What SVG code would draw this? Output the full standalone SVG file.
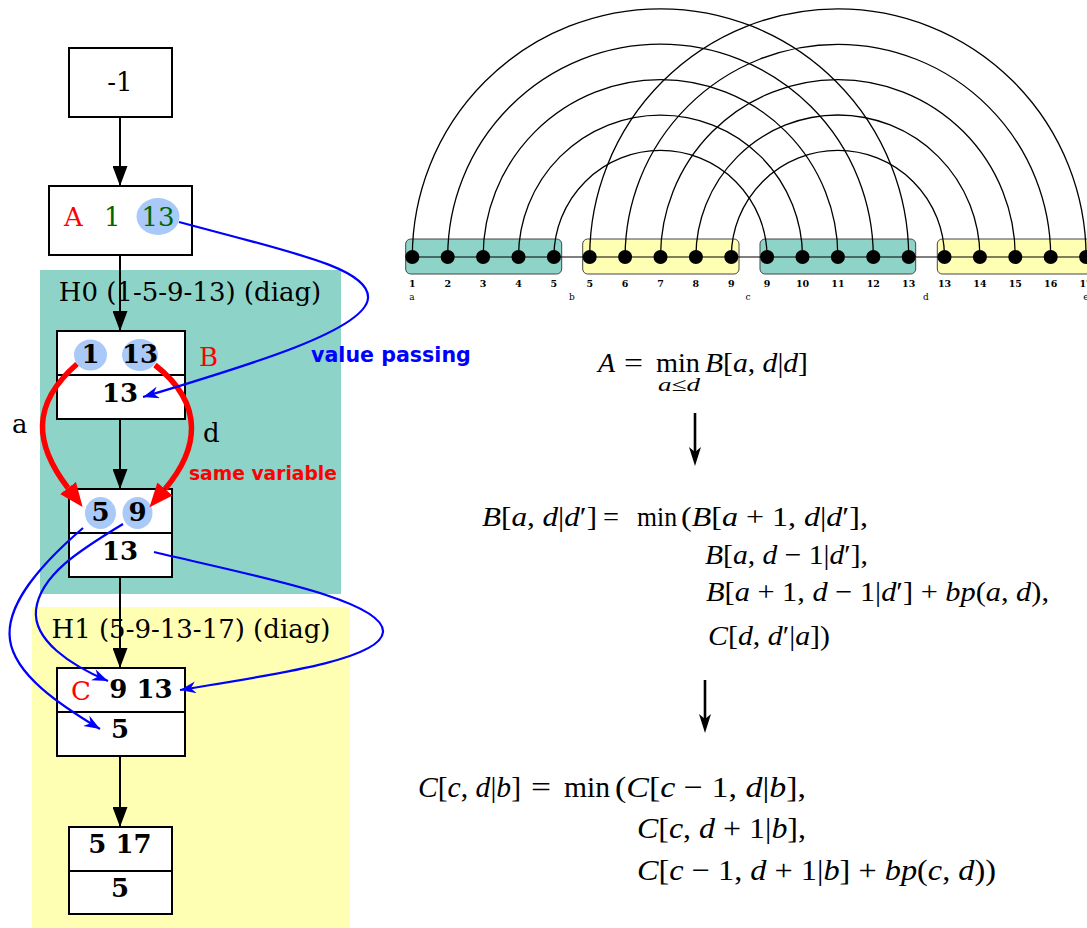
<svg xmlns="http://www.w3.org/2000/svg" width="1087" height="928" viewBox="0 0 1087 928">
<style>
.box{fill:#fff;stroke:#000;stroke-width:2}
.sep{stroke:#000;stroke-width:2}
.ser{font-family:"DejaVu Serif",serif;font-size:26px}
.b{font-weight:bold}
.hl{fill:#a9c9f9}
.edge{fill:none;stroke:#000;stroke-width:2}
.blue{fill:none;stroke:#0000ff;stroke-width:2.2}
.red{fill:none;stroke:#ff0000;stroke-width:5.5}
.arc{fill:none;stroke:#000;stroke-width:1.3}
.grp{stroke:#444;stroke-width:1}
.teal{fill:#8dd3c7}
.yel{fill:#ffffb3}
.num{font-family:"DejaVu Serif",serif;font-weight:bold;font-size:9.5px;text-anchor:middle;fill:#000}
.let{font-family:"DejaVu Serif",serif;font-size:9px;text-anchor:middle;fill:#000}
.m{font-family:"Liberation Serif",serif;fill:#000}
.i{font-style:italic}
.mid{text-anchor:middle}
.sans{font-family:"DejaVu Sans",sans-serif;font-weight:bold}
</style>
<defs>
<marker id="ah" viewBox="0 0 20 15" refX="20" refY="7.5" markerWidth="20" markerHeight="15" markerUnits="userSpaceOnUse" orient="auto"><path d="M0,0 L20,7.5 L0,15 Z" fill="#000"/></marker>
<marker id="bh" viewBox="0 0 16 12" refX="16" refY="6" markerWidth="16" markerHeight="12" markerUnits="userSpaceOnUse" orient="auto"><path d="M0,0 L16,6 L0,12 L5,6 Z" fill="#0000ff"/></marker>
<marker id="rh" viewBox="0 -10 24 20" refX="0" refY="0" markerWidth="24" markerHeight="20" markerUnits="userSpaceOnUse" orient="auto"><path d="M0,-10 L24,0 L0,10 Z" fill="#ff0000"/></marker>
</defs>

<!-- clusters -->
<g id="H0">
<rect x="40" y="270" width="301" height="324" class="teal"/>
<text x="190" y="301" class="ser mid">H0 (1-5-9-13) (diag)</text>
</g>
<g id="H1">
<rect x="32" y="607" width="318" height="321" class="yel"/>
<text x="191" y="638" class="ser mid">H1 (5-9-13-17) (diag)</text>
</g>

<!-- nodes -->
<g id="n_root">
<rect x="69" y="48" width="103" height="69" class="box"/>
<text x="120" y="91" class="ser mid">-1</text>
</g>
<g id="n_A">
<rect x="49" y="186" width="143" height="69" class="box"/>
<ellipse cx="158" cy="216.5" rx="21.5" ry="18.5" class="hl"/>
<text x="64" y="226" class="ser" fill="#ff0000">A</text>
<text x="104" y="226" class="ser" fill="#006400">1</text>
<text x="158" y="226" class="ser mid" fill="#006400">13</text>
</g>
<g id="n_B">
<rect x="57" y="331" width="128" height="88" class="box"/>
<line x1="57" y1="375" x2="185" y2="375" class="sep"/>
<ellipse cx="90.5" cy="355" rx="16.5" ry="15.5" class="hl"/>
<ellipse cx="140" cy="355" rx="18" ry="16" class="hl"/>
<text x="90.5" y="363" class="ser b mid">1</text>
<text x="140" y="363" class="ser b mid">13</text>
<text x="120" y="402" class="ser b mid">13</text>
<text x="199" y="366" class="ser" fill="#ff0000">B</text>
</g>
<g id="n_59">
<rect x="69" y="489" width="103" height="88" class="box"/>
<line x1="69" y1="533" x2="172" y2="533" class="sep"/>
<ellipse cx="100.5" cy="513" rx="15.5" ry="16" class="hl"/>
<ellipse cx="137.5" cy="513" rx="15" ry="16" class="hl"/>
<text x="100.5" y="521" class="ser b mid">5</text>
<text x="137.5" y="521" class="ser b mid">9</text>
<text x="120" y="560" class="ser b mid">13</text>
</g>
<g id="n_C">
<rect x="57" y="668" width="128" height="88" class="box"/>
<line x1="57" y1="712" x2="185" y2="712" class="sep"/>
<text x="71" y="700" class="ser" fill="#ff0000">C</text>
<text x="141" y="698" class="ser b mid">9 13</text>
<text x="120" y="738" class="ser b mid">5</text>
</g>
<g id="n_517">
<rect x="69" y="827" width="103" height="87" class="box"/>
<line x1="69" y1="871" x2="172" y2="871" class="sep"/>
<text x="120" y="853" class="ser b mid">5 17</text>
<text x="120" y="897" class="ser b mid">5</text>
</g>

<!-- connectors -->
<g id="connectors">
<path d="M120,117 L120,186" class="edge" marker-end="url(#ah)"/>
<path d="M120,255 L120,331" class="edge" marker-end="url(#ah)"/>
<path d="M120,419 L120,489" class="edge" marker-end="url(#ah)"/>
<path d="M120,577 L120,668" class="edge" marker-end="url(#ah)"/>
<path d="M120,756 L120,827" class="edge" marker-end="url(#ah)"/>
<path d="M77,364 C30,405 35,445 68,488" class="red" marker-end="url(#rh)"/>
<path d="M155,365 C206,405 198,450 165,489" class="red" marker-end="url(#rh)"/>
<path d="M179,222 C290,252 370,268 368,298 C366,330 250,365 143,397" class="blue" marker-end="url(#bh)"/>
<path d="M83,528 C40,565 5,605 10,640 C15,675 60,705 100,729" class="blue" marker-end="url(#bh)"/>
<path d="M123,524 C80,550 40,575 36,610 C33,640 70,665 108,681" class="blue" marker-end="url(#bh)"/>
<path d="M154,552 C250,575 385,600 383,632 C381,660 270,675 180,690" class="blue" marker-end="url(#bh)"/>
<text x="12" y="433" class="ser">a</text>
<text x="203" y="442" class="ser">d</text>
<text x="189" y="480" class="sans" font-size="18.7" fill="#ff0000">same variable</text>
<text x="311" y="362" class="sans" font-size="20.6" fill="#0000ff">value passing</text>
</g>

<!-- arc diagram -->
<g id="arcdiagram">
<rect x="405.7" y="239" width="156" height="35" rx="5" class="teal grp"/>
<rect x="582.7" y="239" width="156.3" height="35" rx="5" class="yel grp"/>
<rect x="760" y="239" width="155.7" height="35" rx="5" class="teal grp"/>
<rect x="937.3" y="239" width="160" height="35" rx="5" class="yel grp"/>
<line x1="412" y1="257" x2="1087" y2="257" stroke="#000" stroke-width="1.2"/>
<path class="arc" d="M412.3,257 A248.2,248.2 0 0 1 908.7,257 M447.7,257 A212.8,212.8 0 0 1 873.3,257 M483.1,257 A177.4,177.4 0 0 1 837.9,257 M518.5,257 A142,142 0 0 1 802.5,257 M553.9,257 A106.6,106.6 0 0 1 767.1,257"/>
<path class="arc" d="M589.7,257 A248.2,248.2 0 0 1 1086.1,257 M625.1,257 A212.8,212.8 0 0 1 1050.7,257 M660.5,257 A177.4,177.4 0 0 1 1015.3,257 M695.9,257 A142,142 0 0 1 979.9,257 M731.3,257 A106.6,106.6 0 0 1 944.5,257"/>
<g fill="#000">
<circle cx="412.3" cy="257" r="7"/><circle cx="447.7" cy="257" r="7"/><circle cx="483.1" cy="257" r="7"/><circle cx="518.5" cy="257" r="7"/><circle cx="553.9" cy="257" r="7"/>
<circle cx="589.7" cy="257" r="7"/><circle cx="625.1" cy="257" r="7"/><circle cx="660.5" cy="257" r="7"/><circle cx="695.9" cy="257" r="7"/><circle cx="731.3" cy="257" r="7"/>
<circle cx="767.1" cy="257" r="7"/><circle cx="802.5" cy="257" r="7"/><circle cx="837.9" cy="257" r="7"/><circle cx="873.3" cy="257" r="7"/><circle cx="908.7" cy="257" r="7"/>
<circle cx="944.5" cy="257" r="7"/><circle cx="979.9" cy="257" r="7"/><circle cx="1015.3" cy="257" r="7"/><circle cx="1050.7" cy="257" r="7"/><circle cx="1086.1" cy="257" r="7"/>
</g>
<text class="num" y="287"><tspan x="412.3">1</tspan><tspan x="447.7">2</tspan><tspan x="483.1">3</tspan><tspan x="518.5">4</tspan><tspan x="553.9">5</tspan><tspan x="589.7">5</tspan><tspan x="625.1">6</tspan><tspan x="660.5">7</tspan><tspan x="695.9">8</tspan><tspan x="731.3">9</tspan><tspan x="767.1">9</tspan><tspan x="802.5">10</tspan><tspan x="837.9">11</tspan><tspan x="873.3">12</tspan><tspan x="908.7">13</tspan><tspan x="944.5">13</tspan><tspan x="979.9">14</tspan><tspan x="1015.3">15</tspan><tspan x="1050.7">16</tspan><tspan x="1086.1">17</tspan></text>
<text class="let" y="300"><tspan x="412">a</tspan><tspan x="572">b</tspan><tspan x="748">c</tspan><tspan x="926">d</tspan><tspan x="1086">e</tspan></text>
</g>

<!-- formulas -->
<g id="formulaA" class="m" font-size="28">
<text x="598" y="372" class="i">A</text>
<text x="624" y="372" textLength="19" lengthAdjust="spacingAndGlyphs">=</text>
<text x="656" y="372" textLength="44" lengthAdjust="spacingAndGlyphs">min</text>
<text x="705" y="372" textLength="103" lengthAdjust="spacingAndGlyphs"><tspan class="i">B</tspan>[<tspan class="i">a</tspan>, <tspan class="i">d</tspan>|<tspan class="i">d</tspan>]</text>
<text x="658" y="391" font-size="19" textLength="42" lengthAdjust="spacingAndGlyphs"><tspan class="i">a</tspan>≤<tspan class="i">d</tspan></text>
</g>
<g id="arrow1">
<line x1="695" y1="413" x2="695" y2="452" stroke="#000" stroke-width="2.6"/>
<path d="M689,447 L695,466 L701,447 L695,452 Z" fill="#000"/>
</g>
<g id="formulaB" class="m" font-size="28">
<text x="482" y="526" textLength="115" lengthAdjust="spacingAndGlyphs"><tspan class="i">B</tspan>[<tspan class="i">a</tspan>, <tspan class="i">d</tspan>|<tspan class="i">d</tspan>′]</text>
<text x="603" y="526" textLength="16" lengthAdjust="spacingAndGlyphs">=</text>
<text x="637" y="526" textLength="40" lengthAdjust="spacingAndGlyphs">min</text>
<text x="681" y="526" textLength="187" lengthAdjust="spacingAndGlyphs">(<tspan class="i">B</tspan>[<tspan class="i">a</tspan> + 1, <tspan class="i">d</tspan>|<tspan class="i">d</tspan>′],</text>
<text x="705" y="564" textLength="163" lengthAdjust="spacingAndGlyphs"><tspan class="i">B</tspan>[<tspan class="i">a</tspan>, <tspan class="i">d</tspan> − 1|<tspan class="i">d</tspan>′],</text>
<text x="706" y="601" textLength="343" lengthAdjust="spacingAndGlyphs"><tspan class="i">B</tspan>[<tspan class="i">a</tspan> + 1, <tspan class="i">d</tspan> − 1|<tspan class="i">d</tspan>′] + <tspan class="i">bp</tspan>(<tspan class="i">a</tspan>, <tspan class="i">d</tspan>),</text>
<text x="708" y="645" textLength="122" lengthAdjust="spacingAndGlyphs"><tspan class="i">C</tspan>[<tspan class="i">d</tspan>, <tspan class="i">d</tspan>′|<tspan class="i">a</tspan>])</text>
</g>
<g id="arrow2">
<line x1="705" y1="680" x2="705" y2="719" stroke="#000" stroke-width="2.6"/>
<path d="M699,714 L705,733 L711,714 L705,719 Z" fill="#000"/>
</g>
<g id="formulaC" class="m" font-size="30">
<text x="418" y="797" textLength="103" lengthAdjust="spacingAndGlyphs"><tspan class="i">C</tspan>[<tspan class="i">c</tspan>, <tspan class="i">d</tspan>|<tspan class="i">b</tspan>]</text>
<text x="531" y="797" textLength="20" lengthAdjust="spacingAndGlyphs">=</text>
<text x="564" y="797" textLength="46" lengthAdjust="spacingAndGlyphs">min</text>
<text x="615" y="797" textLength="191" lengthAdjust="spacingAndGlyphs">(<tspan class="i">C</tspan>[<tspan class="i">c</tspan> − 1, <tspan class="i">d</tspan>|<tspan class="i">b</tspan>],</text>
<text x="637" y="838" textLength="169" lengthAdjust="spacingAndGlyphs"><tspan class="i">C</tspan>[<tspan class="i">c</tspan>, <tspan class="i">d</tspan> + 1|<tspan class="i">b</tspan>],</text>
<text x="637" y="880" textLength="359" lengthAdjust="spacingAndGlyphs"><tspan class="i">C</tspan>[<tspan class="i">c</tspan> − 1, <tspan class="i">d</tspan> + 1|<tspan class="i">b</tspan>] + <tspan class="i">bp</tspan>(<tspan class="i">c</tspan>, <tspan class="i">d</tspan>))</text>
</g>
</svg>
